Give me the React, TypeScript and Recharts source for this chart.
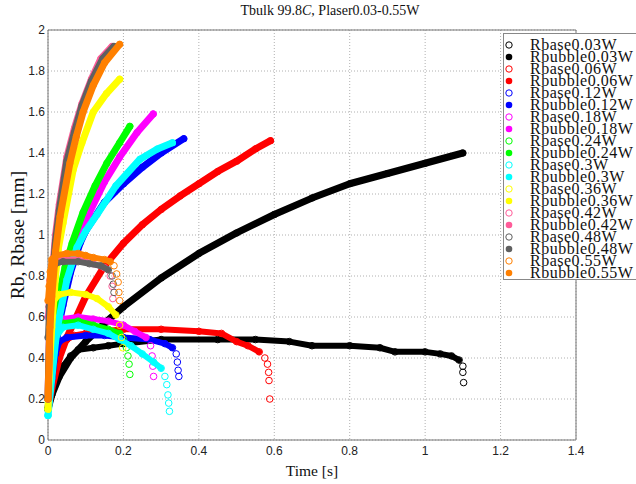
import { ScatterChart, Scatter, XAxis, YAxis, CartesianGrid, Legend, ReferenceArea, Label } from 'recharts'

type Pt = [number, number]

// Time [s], radius [mm]
const bubble003: Pt[] = [[0, 0.15], [0.01, 0.22], [0.03, 0.31], [0.06, 0.4], [0.1, 0.48], [0.15, 0.57], [0.2, 0.65], [0.3, 0.79], [0.4, 0.91], [0.5, 1.01], [0.6, 1.1], [0.7, 1.18], [0.8, 1.25], [0.9, 1.3], [1.0, 1.35], [1.1, 1.4]]
const base003: Pt[] = [[0, 0.15], [0.01, 0.22], [0.02, 0.28], [0.04, 0.36], [0.06, 0.41], [0.08, 0.44], [0.12, 0.45], [0.16, 0.46], [0.2, 0.47], [0.3, 0.49], [0.45, 0.49], [0.55, 0.49], [0.64, 0.48], [0.7, 0.46], [0.8, 0.46], [0.88, 0.45], [0.92, 0.43], [1.0, 0.43], [1.04, 0.42], [1.07, 0.41], [1.09, 0.39], [1.1, 0.36], [1.1, 0.33], [1.102, 0.28]]

const bubble006: Pt[] = [[0, 0.15], [0.01, 0.25], [0.03, 0.4], [0.05, 0.5], [0.07, 0.58], [0.1, 0.7], [0.15, 0.85], [0.2, 0.96], [0.25, 1.05], [0.3, 1.125], [0.35, 1.19], [0.4, 1.25], [0.45, 1.31], [0.5, 1.36], [0.55, 1.42], [0.59, 1.46]]
const base006: Pt[] = [[0, 0.15], [0.01, 0.3], [0.02, 0.4], [0.03, 0.46], [0.05, 0.49], [0.07, 0.51], [0.1, 0.52], [0.15, 0.53], [0.2, 0.54], [0.3, 0.54], [0.4, 0.53], [0.46, 0.52], [0.5, 0.48], [0.53, 0.46], [0.56, 0.43], [0.575, 0.4], [0.582, 0.37], [0.585, 0.33], [0.586, 0.29], [0.588, 0.2]]

const bubble012: Pt[] = [[0, 0.15], [0.01, 0.3], [0.02, 0.45], [0.03, 0.57], [0.04, 0.66], [0.06, 0.82], [0.085, 0.96], [0.1, 1.02], [0.15, 1.16], [0.2, 1.25], [0.25, 1.33], [0.3, 1.4], [0.36, 1.47]]
const base012: Pt[] = [[0, 0.15], [0.01, 0.3], [0.02, 0.42], [0.03, 0.48], [0.05, 0.5], [0.1, 0.51], [0.15, 0.51], [0.2, 0.5], [0.27, 0.49], [0.31, 0.47], [0.33, 0.45], [0.34, 0.42], [0.343, 0.38], [0.345, 0.34], [0.347, 0.31]]

const bubble018: Pt[] = [[0, 0.15], [0.01, 0.33], [0.02, 0.52], [0.03, 0.64], [0.05, 0.8], [0.075, 0.95], [0.11, 1.11], [0.15, 1.26], [0.19, 1.38], [0.236, 1.5], [0.279, 1.59]]
const base018: Pt[] = [[0, 0.2], [0.005, 0.35], [0.01, 0.47], [0.02, 0.55], [0.04, 0.59], [0.08, 0.6], [0.12, 0.59], [0.16, 0.58], [0.2, 0.56], [0.23, 0.53], [0.26, 0.5], [0.272, 0.46], [0.276, 0.41], [0.278, 0.36], [0.28, 0.31]]

const bubble024: Pt[] = [[0, 0.15], [0.01, 0.38], [0.02, 0.58], [0.03, 0.71], [0.045, 0.84], [0.064, 0.96], [0.093, 1.11], [0.125, 1.24], [0.156, 1.35], [0.19, 1.45], [0.217, 1.53]]
const base024: Pt[] = [[0, 0.15], [0.005, 0.3], [0.01, 0.42], [0.02, 0.52], [0.04, 0.57], [0.08, 0.58], [0.12, 0.56], [0.16, 0.54], [0.19, 0.52], [0.2, 0.49], [0.208, 0.45], [0.212, 0.41], [0.215, 0.37], [0.217, 0.32]]

const bubble030: Pt[] = [[0, 0.12], [0.01, 0.3], [0.02, 0.48], [0.03, 0.6], [0.05, 0.78], [0.077, 0.94], [0.1, 1.02], [0.13, 1.1], [0.18, 1.24], [0.244, 1.37], [0.29, 1.42], [0.33, 1.45]]
const base030: Pt[] = [[0, 0.12], [0.005, 0.25], [0.01, 0.38], [0.02, 0.5], [0.04, 0.55], [0.08, 0.56], [0.12, 0.54], [0.16, 0.52], [0.19, 0.49], [0.22, 0.46], [0.25, 0.42], [0.28, 0.38], [0.3, 0.35], [0.31, 0.31], [0.315, 0.27], [0.318, 0.22], [0.32, 0.18], [0.322, 0.14]]

const bubble036: Pt[] = [[0, 0.15], [0.005, 0.4], [0.01, 0.55], [0.02, 0.8], [0.027, 0.93], [0.04, 1.06], [0.067, 1.32], [0.09, 1.45], [0.12, 1.6], [0.155, 1.69], [0.19, 1.76]]
const base036: Pt[] = [[0, 0.2], [0.002, 0.35], [0.004, 0.5], [0.008, 0.62], [0.015, 0.68], [0.03, 0.71], [0.06, 0.72], [0.1, 0.71], [0.13, 0.69], [0.16, 0.65], [0.18, 0.61], [0.19, 0.56], [0.195, 0.5], [0.198, 0.45]]

const bubble042: Pt[] = [[0, 0.2], [0.005, 0.62], [0.01, 0.78], [0.02, 1.0], [0.03, 1.15], [0.05, 1.38], [0.07, 1.52], [0.09, 1.64], [0.115, 1.76], [0.14, 1.86], [0.17, 1.92]]
const base042: Pt[] = [[0, 0.6], [0.005, 0.78], [0.01, 0.85], [0.03, 0.88], [0.08, 0.88], [0.12, 0.86], [0.15, 0.84], [0.165, 0.8], [0.17, 0.75], [0.172, 0.69]]

const bubble048: Pt[] = [[0, 0.2], [0.005, 0.6], [0.01, 0.75], [0.02, 0.97], [0.03, 1.12], [0.05, 1.36], [0.07, 1.5], [0.09, 1.63], [0.115, 1.75], [0.145, 1.86], [0.175, 1.92]]
const base048: Pt[] = [[0, 0.5], [0.003, 0.65], [0.006, 0.75], [0.01, 0.82], [0.02, 0.86], [0.04, 0.87], [0.08, 0.87], [0.11, 0.86], [0.14, 0.85], [0.16, 0.83], [0.17, 0.8], [0.173, 0.76], [0.175, 0.72]]

const bubble055: Pt[] = [[0, 0.2], [0.005, 0.55], [0.01, 0.7], [0.02, 0.92], [0.032, 1.09], [0.058, 1.35], [0.075, 1.48], [0.093, 1.6], [0.12, 1.73], [0.15, 1.84], [0.19, 1.93]]
const base055: Pt[] = [[0, 0.68], [0.003, 0.75], [0.006, 0.82], [0.01, 0.88], [0.02, 0.9], [0.05, 0.91], [0.08, 0.91], [0.1, 0.9], [0.12, 0.89], [0.15, 0.88], [0.165, 0.87], [0.175, 0.85], [0.182, 0.81], [0.186, 0.77], [0.188, 0.72], [0.19, 0.68]]

const xTicks = [0, 0.2, 0.4, 0.6, 0.8, 1, 1.2, 1.4]
const yTicks = [0, 0.2, 0.4, 0.6, 0.8, 1, 1.2, 1.4, 1.6, 1.8, 2]

// tail = how many trailing base points are drawn as loose circles (no band)
const SERIES = [
  { p: '0.03W', color: '#000000', bubble: bubble003, base: base003, tail: 3 },
  { p: '0.06W', color: '#ff0000', bubble: bubble006, base: base006, tail: 5 },
  { p: '0.12W', color: '#0000ff', bubble: bubble012, base: base012, tail: 4 },
  { p: '0.18W', color: '#ff00ff', bubble: bubble018, base: base018, tail: 4 },
  { p: '0.24W', color: '#00ff00', bubble: bubble024, base: base024, tail: 5 },
  { p: '0.3W', color: '#00ffff', bubble: bubble030, base: base030, tail: 5 },
  { p: '0.36W', color: '#ffff00', bubble: bubble036, base: base036, tail: 3 },
  { p: '0.42W', color: '#ff5c99', bubble: bubble042, base: base042, tail: 3 },
  { p: '0.48W', color: '#606060', bubble: bubble048, base: base048, tail: 3 },
  { p: '0.55W', color: '#ff8000', bubble: bubble055, base: base055, tail: 5 },
]

const rows = (pts: Pt[]) => pts.map(([t, r]) => ({ t, r }))

const hollow = (color: string) => (props: any) => (
  <circle cx={props.cx} cy={props.cy} r={3.3} fill="none" stroke={color} strokeWidth={1} />
)
const filled = (color: string) => (props: any) => (
  <circle cx={props.cx} cy={props.cy} r={3.5} fill={color} />
)

const serif = '"Liberation Serif", "Times New Roman", serif'
const sans = '"Liberation Sans", Arial, sans-serif'

function LegendBox() {
  const entries = SERIES.flatMap((s) => [
    { name: 'Rbase' + s.p, color: s.color, solid: false },
    { name: 'Rbubble' + s.p, color: s.color, solid: true },
  ])
  return (
    <div style={{ background: '#fff', border: '1px solid #888', borderRight: 'none', boxSizing: 'border-box', height: 247, paddingTop: 5 }}>
      {entries.map((e) => (
        <div key={e.name} style={{ display: 'flex', alignItems: 'center', height: 12 }}>
          <svg width={26} height={12} style={{ flex: 'none' }}>
            {e.solid
              ? <circle cx={5} cy={6} r={3.3} fill={e.color} />
              : <circle cx={5} cy={6} r={3.2} fill="none" stroke={e.color} strokeWidth={1} />}
          </svg>
          <span style={{ fontFamily: serif, fontSize: 16, letterSpacing: 0.5, lineHeight: '12px', color: '#111', whiteSpace: 'nowrap' }}>{e.name}</span>
        </div>
      ))}
    </div>
  )
}

export default function App() {
  return (
    <div style={{ position: 'absolute', left: 0, top: 0, width: 636, height: 484, background: '#fff', overflow: 'hidden' }}>
      <div style={{ position: 'absolute', left: 130, top: 3, width: 400, textAlign: 'center', fontFamily: serif, fontSize: 14, color: '#111' }}>
        Tbulk 99.8<i>C</i>, Plaser0.03-0.55W
      </div>
      <ScatterChart width={636} height={484} margin={{ top: 30, right: 60, bottom: 8, left: 8 }}>
        <CartesianGrid stroke="#b0b0b0" strokeDasharray="1 2" />
        <XAxis
          type="number"
          dataKey="t"
          domain={[0, 1.4]}
          ticks={xTicks}
          height={36}
          tickLine={false}
          axisLine={false}
          tickSize={4}
          tickMargin={2}
          tick={{ fontFamily: sans, fontSize: 12, fill: '#222' }}
          tickFormatter={(v: number) => String(v)}
        >
          <Label value="Time [s]" position="insideBottom" offset={0} style={{ fontFamily: serif, fontSize: 15.5, fill: '#111' }} />
        </XAxis>
        <YAxis
          type="number"
          dataKey="r"
          domain={[0, 2]}
          ticks={yTicks}
          width={40}
          tickLine={false}
          axisLine={false}
          tickSize={1}
          tickMargin={2}
          tick={{ fontFamily: sans, fontSize: 12, fill: '#222' }}
          tickFormatter={(v: number) => String(v)}
        >
          <Label
            content={(props: any) => {
              const vb = props.viewBox
              const x = vb.x + 9
              const y = vb.y + vb.height / 2
              return (
                <text x={x} y={y} transform={`rotate(-90 ${x} ${y})`} textAnchor="middle" dominantBaseline="central" style={{ fontFamily: serif, fontSize: 19.5, fill: '#111' }}>
                  Rb, Rbase [mm]
                </text>
              )
            }}
          />
        </YAxis>
        <ReferenceArea x1={0} x2={1.4} y1={0} y2={2} fill="none" stroke="#777" strokeWidth={1} ifOverflow="visible" />
        {SERIES.flatMap((s) => {
          const base = rows(s.base)
          const band = base.slice(0, base.length - s.tail)
          const loose = base.slice(base.length - s.tail)
          return [
            <Scatter
              key={'base-band' + s.p}
              data={band}
              fill="none"
              isAnimationActive={false}
              line={{ stroke: s.color, strokeWidth: 6, strokeLinecap: 'round', strokeLinejoin: 'round' }}
              shape={hollow(s.color)}
              legendType="none"
            />,
            <Scatter
              key={'base-loose' + s.p}
              data={loose}
              fill="none"
              isAnimationActive={false}
              shape={hollow(s.color)}
              legendType="none"
            />,
            <Scatter
              key={'bubble' + s.p}
              data={rows(s.bubble)}
              fill={s.color}
              isAnimationActive={false}
              line={{ stroke: s.color, strokeWidth: 7, strokeLinecap: 'round', strokeLinejoin: 'round' }}
              shape={filled(s.color)}
              legendType="none"
            />,
          ]
        })}
        <Legend
          layout="vertical"
          align="center"
          verticalAlign="middle"
          content={() => <LegendBox />}
          wrapperStyle={{ left: 503, top: 33, width: 133, height: 247 }}
        />
      </ScatterChart>
    </div>
  )
}
